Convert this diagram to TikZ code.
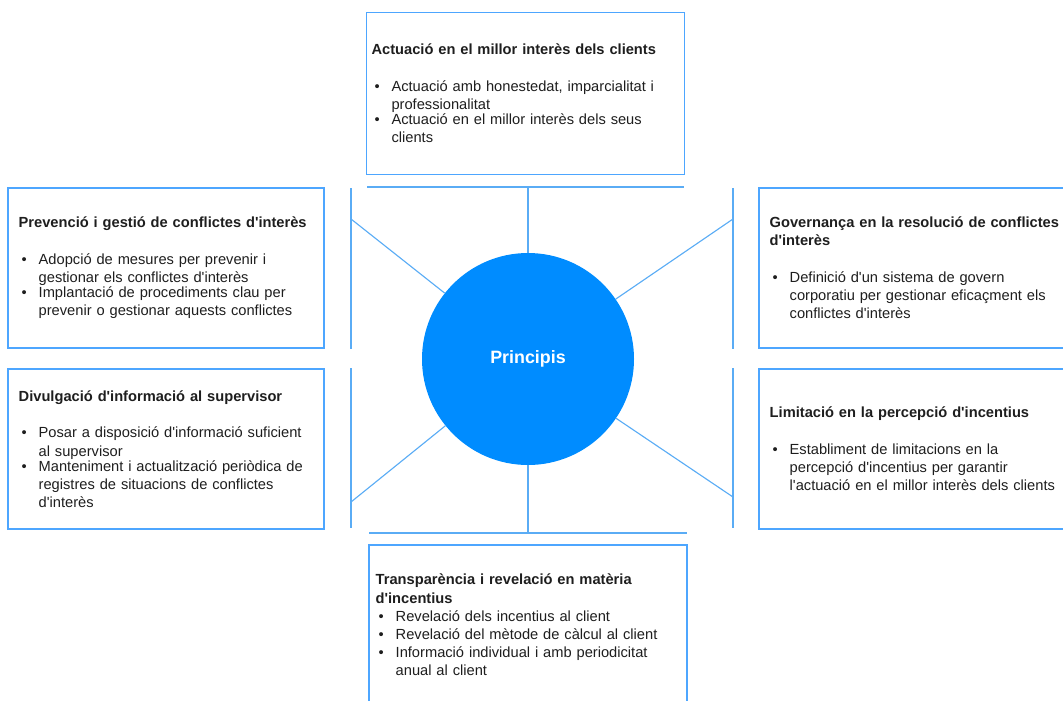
\documentclass[tikz,border=0pt]{standalone}
\usepackage{fontspec}
\newfontfamily\arialf{Liberation Sans}
\usetikzlibrary{positioning}

\definecolor{boxblue}{RGB}{77,166,255}
\definecolor{lineblue}{RGB}{90,172,245}
\definecolor{circblue}{RGB}{0,140,255}
\definecolor{textgray}{RGB}{30,30,30}

\tikzset{
  box/.style={draw=boxblue, line width=0.85pt, minimum width=237pt, minimum height=120pt, inner sep=0pt},
  txt/.style={text width=230pt, align=left, inner sep=0pt, text=textgray,
    font=\arialf\fontsize{11}{13.6}\selectfont},
  circ/.style={circle, fill=circblue, minimum size=159pt, inner sep=0pt, text=white,
    font=\arialf\bfseries\fontsize{13.4}{16}\selectfont},
  bar/.style={draw=lineblue, line width=1.3pt},
  link/.style={draw=lineblue, line width=0.85pt},
}
\newcommand\ttl[1]{\noindent\textbf{#1}\par}
\newcommand\bul[1]{\noindent\makebox[15pt][l]{\hspace{2.25pt}\textbullet}\parbox[t]{215pt}{#1}\par}
\newcommand\gap{\vspace{14pt}}

\begin{document}
\begin{tikzpicture}[x=0.75pt,y=-0.75pt]
  \useasboundingbox (0,0) rectangle (1063,700);
  \clip (0,0) rectangle (1063,700);

  %%%%%%%%%%%%%%%%%%%%%%%%%%%%%%%%%%%%%%%%%%%%%%%%%%%%%%%%%%%%%%%%%%%%%%%%%%%
  %%%%  Centre
  \node[circ] (c) at (528,359) {Principis};

  %%%%%%%%%%%%%%%%%%%%%%%%%%%%%%%%%%%%%%%%%%%%%%%%%%%%%%%%%%%%%%%%%%%%%%%%%%%
  %%%%  Boxes
  \node[box, minimum width=238pt, minimum height=121pt] (act) at (525.5,93.5) {};
  \node[txt, right=3.75pt of act.west] (actT) {%
    \ttl{Actuació en el millor interès dels clients}\gap
    \bul{Actuació amb honestedat, imparcialitat i\\professionalitat}
    \bul{Actuació en el millor interès dels seus\\clients}};

  \node[box] (prev) at (166,268) {};
  \node[txt, right=8.25pt of prev.west] (prevT) {%
    \ttl{Prevenció i gestió de conflictes d'interès}\gap
    \bul{Adopció de mesures per prevenir i\\gestionar els conflictes d'interès}
    \bul{Implantació de procediments clau per\\prevenir o gestionar aquests conflictes}};

  \node[box] (div) at (166,449) {};
  \node[txt, right=8.25pt of div.west] (divT) {%
    \ttl{Divulgació d'informació al supervisor}\gap
    \bul{Posar a disposició d'informació suficient\\al supervisor}
    \bul{Manteniment i actualització periòdica de\\registres de situacions de conflictes\\d'interès}};

  \node[box] (gov) at (917,268) {};
  \node[txt, right=8.25pt of gov.west] (govT) {%
    \ttl{Governança en la resolució de conflictes\\d'interès}\gap
    \bul{Definició d'un sistema de govern\\corporatiu per gestionar eficaçment els\\conflictes d'interès}};

  \node[box] (lim) at (917,449) {};
  \node[txt, right=8.25pt of lim.west] (limT) {%
    \ttl{Limitació en la percepció d'incentius}\gap
    \bul{Establiment de limitacions en la\\percepció d'incentius per garantir\\l'actuació en el millor interès dels clients}};

  \node[box, minimum width=238.5pt] (trans) at (528,625) {};
  \node[txt, right=5.25pt of trans.west] (transT) {%
    \ttl{Transparència i revelació en matèria\\d'incentius}
    \bul{Revelació dels incentius al client}
    \bul{Revelació del mètode de càlcul al client}
    \bul{Informació individual i amb periodicitat\\anual al client}};

  %%%%%%%%%%%%%%%%%%%%%%%%%%%%%%%%%%%%%%%%%%%%%%%%%%%%%%%%%%%%%%%%%%%%%%%%%%%
  %%%%  Brackets
  \coordinate (tbarL) at (367,187); \coordinate (tbarR) at (684,187);
  \coordinate (bbarL) at (369,533); \coordinate (bbarR) at (687,533);
  \draw[bar] (tbarL) -- (tbarR);
  \draw[bar] (bbarL) -- (bbarR);
  \draw[link] (c.north) -- (c.north |- tbarL);
  \draw[link] (c.south) -- (c.south |- bbarL);

  \foreach \xx/\nm in {351/L,733/R}
  {\coordinate (\nm1) at (\xx,188); \coordinate (\nm2) at (\xx,349);
   \coordinate (\nm3) at (\xx,368); \coordinate (\nm4) at (\xx,528);
   \draw[bar] (\nm1) -- (\nm2);
   \draw[bar] (\nm3) -- (\nm4);
  };

  %%%%  Spokes
  \coordinate (dLu) at (351,219); \coordinate (dLd) at (351,502);
  \coordinate (dRu) at (733,219); \coordinate (dRd) at (733,497);
  \foreach \p in {dLu,dLd,dRu,dRd}
    \draw[link] (\p) -- (c);
\end{tikzpicture}
\end{document}
